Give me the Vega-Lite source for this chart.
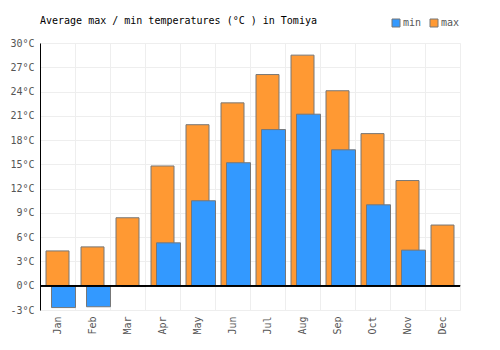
{
  "$schema": "https://vega.github.io/schema/vega-lite/v6.json",
  "width": 420,
  "height": 267,
  "autosize": {"type": "none"},
  "padding": {"left": 40, "top": 43, "right": 40, "bottom": 40},
  "background": "white",
  "title": {"text": "Average max / min temperatures (°C ) in Tomiya", "anchor": "start", "frame": "group", "font": "DejaVu Sans Mono", "fontSize": 10, "fontWeight": "normal", "color": "#000", "offset": -8},
  "config": {
    "view": {"stroke": "#eeeeee"},
    "axis": {"labelFont": "DejaVu Sans Mono", "labelFontSize": 10, "labelColor": "#555"}
  },
  "data": {"values": [
    {"month": "Jan", "min": -2.7, "max": 4.3},
    {"month": "Feb", "min": -2.6, "max": 4.8},
    {"month": "Mar", "min": -0.1, "max": 8.4},
    {"month": "Apr", "min": 5.3, "max": 14.8},
    {"month": "May", "min": 10.5, "max": 19.9},
    {"month": "Jun", "min": 15.2, "max": 22.6},
    {"month": "Jul", "min": 19.3, "max": 26.1},
    {"month": "Aug", "min": 21.2, "max": 28.5},
    {"month": "Sep", "min": 16.8, "max": 24.1},
    {"month": "Oct", "min": 10.0, "max": 18.8},
    {"month": "Nov", "min": 4.4, "max": 13.0},
    {"month": "Dec", "min": 0, "max": 7.5}
  ]},
  "layer": [
    {
      "mark": {"type": "bar", "width": 23, "stroke": "#777777", "strokeWidth": 1},
      "encoding": {
        "x": {"field": "month", "type": "nominal", "sort": null, "scale": {"paddingInner": 0, "paddingOuter": 0},
              "axis": {"orient": "bottom", "bandPosition": 0, "labels": false, "ticks": false, "domain": false, "grid": true, "gridColor": "#eeeeee", "title": null}},
        "y": {"field": "max", "type": "quantitative", "scale": {"domain": [-3, 30], "nice": false, "zero": false},
              "axis": {"values": [-3, 0, 3, 6, 9, 12, 15, 18, 21, 24, 27, 30], "tickCount": 20, "labelExpr": "datum.value + '°C'", "labelOverlap": false, "labelBound": false, "grid": true, "gridColor": "#eeeeee", "ticks": false, "labelPadding": 6, "domainColor": "#000000", "title": null}},
        "color": {"datum": "max", "scale": {"domain": ["min", "max"], "range": ["#3399ff", "#ff9933"]},
                  "legend": {"orient": "none", "legendX": 351, "legendY": -25, "direction": "horizontal", "symbolType": "square", "symbolSize": 64, "symbolStrokeColor": "#777777", "symbolStrokeWidth": 1, "labelFont": "DejaVu Sans Mono", "labelFontSize": 10, "labelColor": "#555", "title": null, "columnPadding": 6, "labelOffset": 2}}
      }
    },
    {
      "mark": {"type": "bar", "width": 24, "xOffset": 6, "stroke": "#777777", "strokeWidth": 1},
      "encoding": {
        "x": {"field": "month", "type": "nominal", "sort": null,
              "axis": {"orient": "bottom", "labelAngle": 270, "labelOverlap": false, "grid": false, "ticks": false, "domain": false, "labelPadding": 6, "title": null}},
        "y": {"field": "min", "type": "quantitative"},
        "color": {"datum": "min"}
      }
    },
    {
      "mark": {"type": "rule", "color": "#000000", "strokeWidth": 1},
      "encoding": {"y": {"datum": 0}}
    }
  ],
  "resolve": {"axis": {"x": "independent"}}
}
